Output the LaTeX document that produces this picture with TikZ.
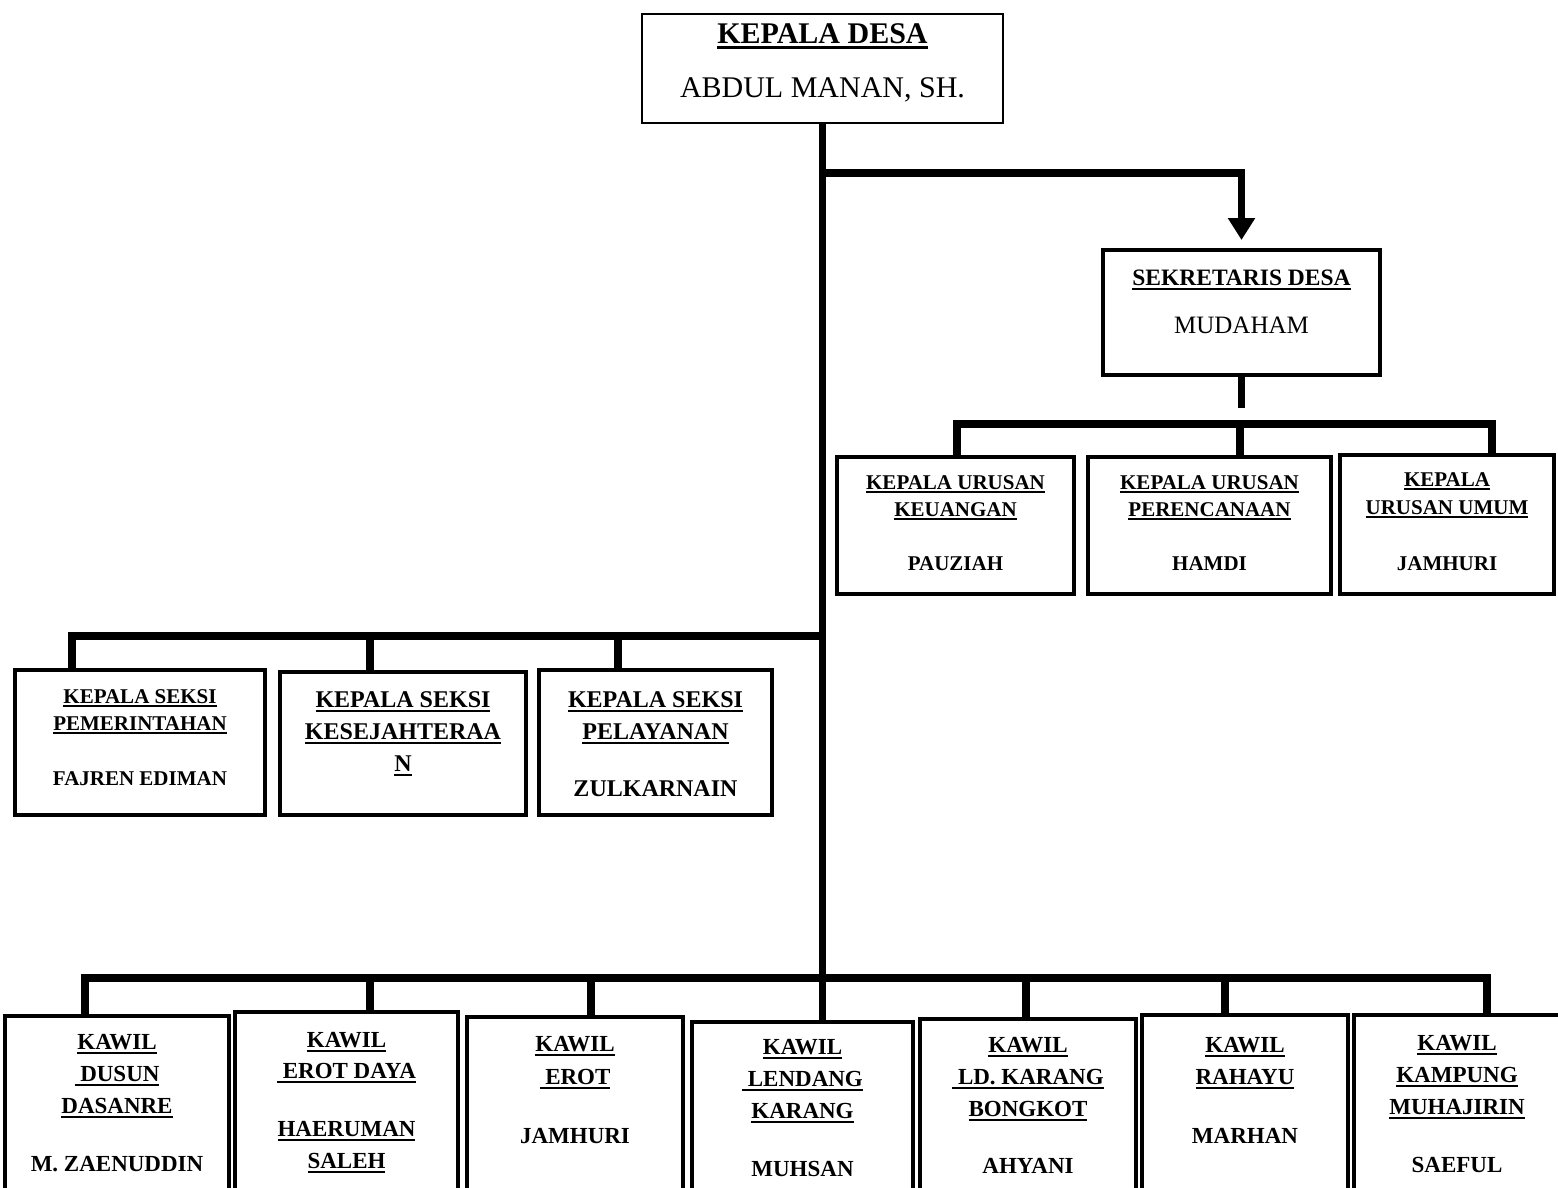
\documentclass[tikz,border=0pt]{standalone}
\usepackage{fontspec}
\setmainfont{Liberation Serif}
\usetikzlibrary{arrows.meta,calc}
\newcommand\uln[1]{\leavevmode\setbox0=\hbox{#1}\rlap{\rule[-0.2em]{\wd0}{0.085em}}\box0}
\tikzset{
  bx/.style={draw, line width=4pt, inner sep=0pt, outer sep=0pt, anchor=north west, fill=white},
  conn/.style={line width=7.5pt, line join=miter},
  tS/.style={anchor=base, inner sep=0pt, font=\fontsize{21}{21}\selectfont\bfseries},
  tM/.style={anchor=base, inner sep=0pt, font=\fontsize{23}{23}\selectfont\bfseries},
  tL/.style={anchor=base, inner sep=0pt, font=\fontsize{24}{24}\selectfont\bfseries},
}
\begin{document}
\begin{tikzpicture}[x=1pt,y=-1pt]
\useasboundingbox (0,0) rectangle (1558,1187);
\clip (0,0) rectangle (1558,1187);
\fill[white] (0,0) rectangle (1558,1187);

% boxes
\node[bx, line width=2pt, minimum width=361pt, minimum height=109pt] (kd) at (642,14) {};
\node[bx, minimum width=277pt, minimum height=125pt] (sd) at (1103,250) {};
\node[bx, minimum width=237pt, minimum height=137pt] (ku1) at (837,457) {};
\node[bx, minimum width=243pt, minimum height=137pt] (ku2) at (1088,457) {};
\node[bx, minimum width=214pt, minimum height=139pt] (ku3) at (1340,455) {};
\node[bx, minimum width=250pt, minimum height=145pt] (ks1) at (15,670) {};
\node[bx, minimum width=246pt, minimum height=143pt] (ks2) at (280,672) {};
\node[bx, minimum width=233pt, minimum height=145pt] (ks3) at (539,670) {};
\node[bx, minimum width=224pt, minimum height=200pt] (kw1) at (5,1016) {};
\node[bx, minimum width=223pt, minimum height=200pt] (kw2) at (235,1012) {};
\node[bx, minimum width=216pt, minimum height=200pt] (kw3) at (467,1017) {};
\node[bx, minimum width=221pt, minimum height=200pt] (kw4) at (692,1022) {};
\node[bx, minimum width=216pt, minimum height=200pt] (kw5) at (920,1019) {};
\node[bx, minimum width=206pt, minimum height=200pt] (kw6) at (1142,1015) {};
\node[bx, minimum width=206pt, minimum height=200pt] (kw7) at (1354,1015) {};

% coordinates
\coordinate (j1) at (822.5,173);
\coordinate (c1) at (1241.5,173);
\coordinate (at) at (1241.5,240);
\coordinate (stub) at (1241.5,408);
\coordinate (u1) at (957,424);
\coordinate (u2) at (1240,424);
\coordinate (u3) at (1492,424);
\coordinate (sb) at (822.5,636);
\coordinate (s1) at (72,636);
\coordinate (s2) at (370,636);
\coordinate (s3) at (618,636);
\coordinate (b1) at (85,978);
\coordinate (b2) at (370,978);
\coordinate (b3) at (591,978);
\coordinate (b5) at (1026,978);
\coordinate (b6) at (1225,978);
\coordinate (b7) at (1487,978);

% connectors
\draw[conn] (kd.south) -- (kd.south |- kw4.north);
\draw[conn, -{Triangle[width=26pt,length=22pt]}] (j1) -- (c1) -- (at);
\draw[conn] (sd.south) -- (stub);
\draw[conn] (u1 |- ku1.north) -- (u1) -- (u3) -- (u3 |- ku3.north);
\draw[conn] (u2) -- (u2 |- ku2.north);
\draw[conn] (s1 |- ks1.north) -- (s1) -- (sb);
\draw[conn] (s2) -- (s2 |- ks2.north);
\draw[conn] (s3) -- (s3 |- ks3.north);
\draw[conn] (b1 |- kw1.north) -- (b1) -- (b7) -- (b7 |- kw7.north);
\draw[conn] (b2) -- (b2 |- kw2.north);
\draw[conn] (b3) -- (b3 |- kw3.north);
\draw[conn] (b5) -- (b5 |- kw5.north);
\draw[conn] (b6) -- (b6 |- kw6.north);

% top texts
\node[anchor=base, inner sep=0pt, font=\fontsize{30}{30}\selectfont\bfseries] (kdA) at (822.5,43) {\uln{KEPALA DESA}};
\node[anchor=base, inner sep=0pt, font=\fontsize{30}{30}\selectfont] (kdB) at (822.5,97) {ABDUL MANAN, SH.};
\node[anchor=base, inner sep=0pt, font=\fontsize{23.5}{23.5}\selectfont\bfseries] (sdA) at (1241.5,285) {\uln{SEKRETARIS DESA}};
\node[anchor=base, inner sep=0pt, font=\fontsize{25}{25}\selectfont] (sdB) at (1241.5,333) {MUDAHAM};

% urusan
\node[tS] (ku1a) at (955.5,489) {\uln{KEPALA URUSAN}};
\node[tS] (ku1b) at (955.5,516) {\uln{KEUANGAN}};
\node[tS] (ku1c) at (955.5,570) {PAUZIAH};
\node[tS] (ku2a) at (1209.5,489) {\uln{KEPALA URUSAN}};
\node[tS] (ku2b) at (1209.5,516) {\uln{PERENCANAAN}};
\node[tS] (ku2c) at (1209.5,570) {HAMDI};
\node[tS] (ku3a) at (1447,486) {\uln{KEPALA}};
\node[tS] (ku3b) at (1447,514) {\uln{URUSAN UMUM}};
\node[tS] (ku3c) at (1447,570) {JAMHURI};

% seksi
\node[tS] (ks1a) at (140,703) {\uln{KEPALA SEKSI}};
\node[tS] (ks1b) at (140,730) {\uln{PEMERINTAHAN}};
\node[tS] (ks1c) at (140,785) {FAJREN EDIMAN};
\node[tL] (ks2a) at (403,707) {\uln{KEPALA SEKSI}};
\node[tL] (ks2b) at (403,739) {\uln{KESEJAHTERAA}};
\node[tL] (ks2c) at (403,771) {\uln{N}};
\node[tL] (ks3a) at (655.5,707) {\uln{KEPALA SEKSI}};
\node[tL] (ks3b) at (655.5,739) {\uln{PELAYANAN}};
\node[tL] (ks3c) at (655.5,796) {ZULKARNAIN};

% kawil
\node[tM] (kw1a) at (117,1049) {\uln{KAWIL}};
\node[tM] (kw1b) at (117,1081) {\uln{\ DUSUN}};
\node[tM] (kw1c) at (117,1113) {\uln{DASANRE}};
\node[tM] (kw1d) at (117,1171) {M. ZAENUDDIN};
\node[tM] (kw2a) at (346.5,1047) {\uln{KAWIL}};
\node[tM] (kw2b) at (346.5,1078) {\uln{\ EROT DAYA}};
\node[tM] (kw2c) at (346.5,1136) {\uln{HAERUMAN}};
\node[tM] (kw2d) at (346.5,1168) {\uln{SALEH}};
\node[tM] (kw3a) at (575,1051) {\uln{KAWIL}};
\node[tM] (kw3b) at (575,1084) {\uln{\ EROT}};
\node[tM] (kw3c) at (575,1143) {JAMHURI};
\node[tM] (kw4a) at (802.5,1054) {\uln{KAWIL}};
\node[tM] (kw4b) at (802.5,1086) {\uln{\ LENDANG}};
\node[tM] (kw4c) at (802.5,1118) {\uln{KARANG}};
\node[tM] (kw4d) at (802.5,1176) {MUHSAN};
\node[tM] (kw5a) at (1028,1052) {\uln{KAWIL}};
\node[tM] (kw5b) at (1028,1084) {\uln{\ LD. KARANG}};
\node[tM] (kw5c) at (1028,1116) {\uln{BONGKOT}};
\node[tM] (kw5d) at (1028,1173) {AHYANI};
\node[tM] (kw6a) at (1245,1052) {\uln{KAWIL}};
\node[tM] (kw6b) at (1245,1084) {\uln{RAHAYU}};
\node[tM] (kw6c) at (1245,1143) {MARHAN};
\node[tM] (kw7a) at (1457,1050) {\uln{KAWIL}};
\node[tM] (kw7b) at (1457,1082) {\uln{KAMPUNG}};
\node[tM] (kw7c) at (1457,1114) {\uln{MUHAJIRIN}};
\node[tM] (kw7d) at (1457,1172) {SAEFUL};
\end{tikzpicture}
\end{document}
